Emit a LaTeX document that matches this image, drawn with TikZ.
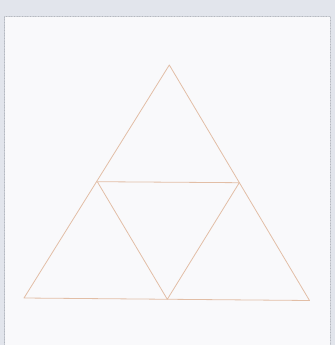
\documentclass[tikz,border=0pt]{standalone}
\usepackage{tikz}
\usepackage{xcolor}
\definecolor{paneledge}{RGB}{178,182,190}
\definecolor{bggray}{RGB}{226,229,236}
\definecolor{panelfill}{RGB}{249,249,251}
\definecolor{tanline}{RGB}{226,190,166}

\begin{document}
\begin{tikzpicture}[x=1pt,y=-1pt,line cap=round,line join=round]
\useasboundingbox (0,0) rectangle (335,345);
\fill[bggray] (0,0) rectangle (335,345);
\fill[panelfill] (4.5,16.5) rectangle (330.5,346);
\draw[paneledge,densely dotted,line width=0.6pt] (4.5,346) -- (4.5,16.5) -- (330.5,16.5) -- (330.5,346);
% outer triangle and midpoints
\coordinate (top) at (169.3,65);
\coordinate (bl) at (24,298);
\coordinate (br) at (309.5,300.5);
\coordinate (ml) at (97.3,181.7);
\coordinate (mr) at (239.3,182.7);
\coordinate (mb) at (167.3,299.3);
\draw[tanline,line width=0.8pt] (top) -- (br) -- (bl) -- cycle;
\draw[tanline,line width=0.8pt] (ml) -- (mr) -- (mb) -- cycle;
\end{tikzpicture}
\end{document}
